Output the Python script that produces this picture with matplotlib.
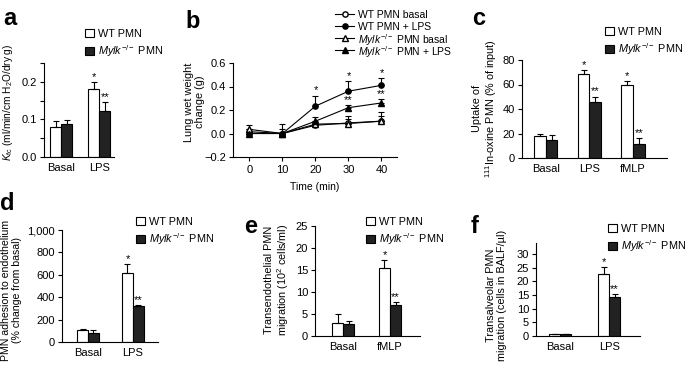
import numpy as np
import matplotlib
matplotlib.use('Agg')
import matplotlib.pyplot as plt
from matplotlib.lines import Line2D

plt.rcParams['font.family'] = ['Liberation Sans', 'DejaVu Sans']
plt.rcParams['mathtext.fontset'] = 'custom'
plt.rcParams['mathtext.rm'] = 'Liberation Sans'
plt.rcParams['mathtext.it'] = 'Liberation Sans:italic'
plt.rcParams['mathtext.bf'] = 'Liberation Sans:bold'
plt.rcParams['font.size'] = 7.5
plt.rcParams['axes.linewidth'] = 0.8

# ---- data ----
# a: Kfc
a_groups = ['Basal', 'LPS']
a_wt = [0.080, 0.181]
a_wt_err = [0.015, 0.018]
a_ko = [0.088, 0.123]
a_ko_err = [0.011, 0.023]
a_wt_stars = ['', '*']
a_ko_stars = ['', '**']

# b: lung wet weight over time
b_time = [0, 10, 20, 30, 40]
b_wt_basal = [0.015, 0.0, 0.07, 0.09, 0.105]
b_wt_basal_err = [0.055, 0.04, 0.03, 0.06, 0.08]
b_wt_lps = [0.0, 0.0, 0.233, 0.36, 0.41]
b_wt_lps_err = [0.0, 0.0, 0.09, 0.085, 0.06]
b_ko_basal = [0.035, 0.0, 0.08, 0.085, 0.105]
b_ko_basal_err = [0.005, 0.08, 0.02, 0.04, 0.045]
b_ko_lps = [0.0, 0.0, 0.105, 0.22, 0.26]
b_ko_lps_err = [0.0, 0.0, 0.035, 0.02, 0.03]
b_wt_stars = ['', '', '*', '*', '*']
b_ko_stars = ['', '', '', '**', '**']

# c: 111In-oxine uptake
c_groups = ['Basal', 'LPS', 'fMLP']
c_wt = [17.6, 68.6, 59.7]
c_wt_err = [2.2, 3.3, 3.5]
c_ko = [14.4, 45.6, 11.7]
c_ko_err = [4.6, 4.6, 4.6]
c_wt_stars = ['', '*', '*']
c_ko_stars = ['', '**', '**']

# d: adhesion
d_groups = ['Basal', 'LPS']
d_wt = [104, 614]
d_wt_err = [8, 78]
d_ko = [80, 323]
d_ko_err = [25, 9]
d_wt_stars = ['', '*']
d_ko_stars = ['', '**']

# e: transendothelial migration
e_groups = ['Basal', 'fMLP']
e_wt = [3.0, 15.4]
e_wt_err = [1.9, 1.9]
e_ko = [2.7, 7.0]
e_ko_err = [0.7, 0.8]
e_wt_stars = ['', '*']
e_ko_stars = ['', '**']

# f: transalveolar migration
f_groups = ['Basal', 'LPS']
f_wt = [0.8, 22.7]
f_wt_err = [0.1, 2.4]
f_ko = [0.7, 14.1]
f_ko_err = [0.2, 1.1]
f_wt_stars = ['', '*']
f_ko_stars = ['', '**']

KO = r'$\mathit{Mylk}^{-/-}$ PMN'

W, H = 685, 365
fig = plt.figure(figsize=(6.85, 3.65), dpi=100)


def box(l, t, r, b):
    return [l / W, 1 - b / H, (r - l) / W, (b - t) / H]


def style(ax):
    ax.spines['top'].set_visible(False)
    ax.spines['right'].set_visible(False)
    ax.tick_params(axis='y', direction='out', length=3, width=0.8, pad=2, labelsize=8)


def stars(ax, xs, vals, errs, labels):
    for xi, v, e, s in zip(xs, vals, errs, labels):
        if s:
            ax.annotate(s, (xi, v + e), xytext=(0, 0), textcoords='offset points',
                        ha='center', va='bottom', fontsize=8)


def bar_panel(ax, groups, wt, wt_err, ko, ko_err, wt_st, ko_st, width, xlim):
    x = np.arange(len(groups))
    ax.bar(x - width / 2, wt, width, color='white', edgecolor='black', lw=0.8, label='WT PMN')
    ax.bar(x + width / 2, ko, width, color='#222222', edgecolor='black', lw=0.8, label=KO)
    for xs, v, e in [(x - width / 2, wt, wt_err), (x + width / 2, ko, ko_err)]:
        ax.errorbar(xs, v, yerr=[np.zeros(len(v)), e], fmt='none', ecolor='black',
                    elinewidth=0.8, capsize=2, capthick=0.8)
    stars(ax, x - width / 2, wt, wt_err, wt_st)
    stars(ax, x + width / 2, ko, ko_err, ko_st)
    ax.set_xticks(x, groups, fontsize=8)
    ax.tick_params(axis='x', length=0, pad=4)
    ax.set_xlim(*xlim)
    style(ax)


def bar_legend(ax, x, y):
    ax.legend(loc='upper left', bbox_to_anchor=(x / W, 1 - y / H), bbox_transform=fig.transFigure,
              frameon=False, fontsize=7.8, handlelength=0.8, handleheight=0.8,
              handletextpad=0.4, labelspacing=0.35, borderpad=0, borderaxespad=0)


def ylab(ax, text, x, y, size=7.8):
    ax.set_ylabel(text, fontsize=size, linespacing=1.1)
    ax.yaxis.set_label_coords(x, y)


# ---- a ----
ax = fig.add_axes(box(44, 63, 114, 157))
bar_panel(ax, a_groups, a_wt, a_wt_err, a_ko, a_ko_err, a_wt_stars, a_ko_stars, 0.29, (-0.45, 1.39))
ax.set_ylim(0, 0.25)
ax.set_yticks(np.arange(0, 0.26, 0.05))
ax.set_yticklabels(['0.0', '', '0.1', '', '0.2', ''])
ylab(ax, r'$\mathit{K}_{\rm fc}$ (ml/min/cm H$_2$O/dry g)', -0.42, 0.58, size=7.3)
bar_legend(ax, 85, 29)

# ---- b ----
ax = fig.add_axes(box(233, 63, 397, 157))
series = [
    (b_wt_basal, b_wt_basal_err, 'o', 'white', 'WT PMN basal'),
    (b_wt_lps, b_wt_lps_err, 'o', 'black', 'WT PMN + LPS'),
    (b_ko_basal, b_ko_basal_err, '^', 'white', r'$\mathit{Mylk}^{-/-}$ PMN basal'),
    (b_ko_lps, b_ko_lps_err, '^', 'black', r'$\mathit{Mylk}^{-/-}$ PMN + LPS'),
]
for vals, errs, mk, fc, lab in series:
    ax.errorbar(b_time, vals, yerr=[np.zeros(len(vals)), errs], fmt='-', marker=mk,
                color='black', mfc=fc, mec='black', ms=3.8, lw=0.8, elinewidth=0.8,
                capsize=2, capthick=0.8, label=lab)
stars(ax, b_time, b_wt_lps, b_wt_lps_err, b_wt_stars)
stars(ax, b_time, b_ko_lps, b_ko_lps_err, b_ko_stars)
ax.set_xlim(-5, 44.7)
ax.set_ylim(-0.2, 0.6)
ax.set_xticks(b_time)
ax.set_yticks([-0.2, 0.0, 0.2, 0.4, 0.6])
ax.set_yticklabels(['\u22120.2', '0.0', '0.2', '0.4', '0.6'])
ax.tick_params(axis='x', direction='out', length=3, width=0.8, pad=3, labelsize=8)
style(ax)
ax.set_xlabel('Time (min)', fontsize=7.5, labelpad=5)
ylab(ax, 'Lung wet weight\nchange (g)', -0.17, 0.585)

# legend for b, drawn row by row
for i, (_, _, mk, fc, lab) in enumerate(series):
    yc = 1 - (14 + 12 * i) / H
    fig.add_artist(Line2D([335 / W, 354 / W], [yc, yc], color='black', lw=0.8))
    fig.add_artist(Line2D([344.5 / W], [yc], marker=mk, mfc=fc, mec='black', ms=3.8, lw=0))
    fig.text(358 / W, yc, lab, fontsize=7.5, va='center_baseline', ha='left')

# ---- c ----
ax = fig.add_axes(box(522, 60, 667, 158))
bar_panel(ax, c_groups, c_wt, c_wt_err, c_ko, c_ko_err, c_wt_stars, c_ko_stars, 0.265, (-0.55, 2.78))
ax.set_ylim(0, 80)
ax.set_yticks([0, 20, 40, 60, 80])
ylab(ax, 'Uptake of\n$^{111}$In-oxine PMN (% of input)', -0.16, 0.51)
bar_legend(ax, 605, 27)

# ---- d ----
ax = fig.add_axes(box(62, 230, 158, 342))
bar_panel(ax, d_groups, d_wt, d_wt_err, d_ko, d_ko_err, d_wt_stars, d_ko_stars, 0.24, (-0.58, 1.56))
ax.set_ylim(0, 1000)
ax.set_yticks(np.arange(0, 1001, 200))
ax.set_yticklabels(['0', '200', '400', '600', '800', '1,000'])
ylab(ax, 'PMN adhesion to endothelium\n(% change from basal)', -0.42, 0.46, size=7.6)
bar_legend(ax, 136, 217)

# ---- e ----
ax = fig.add_axes(box(315, 226, 420, 336))
bar_panel(ax, e_groups, e_wt, e_wt_err, e_ko, e_ko_err, e_wt_stars, e_ko_stars, 0.235, (-0.6, 1.64))
ax.set_ylim(0, 25)
ax.set_yticks(np.arange(0, 26, 5))
ylab(ax, 'Transendothelial PMN\nmigration (10$^2$ cells/ml)', -0.23, 0.51)
bar_legend(ax, 366, 217)

# ---- f ----
ax = fig.add_axes(box(536, 243, 640, 336))
bar_panel(ax, f_groups, f_wt, f_wt_err, f_ko, f_ko_err, f_wt_stars, f_ko_stars, 0.225, (-0.49, 1.63))
ax.set_ylim(0, 34)
ax.set_yticks(np.arange(0, 31, 5))
ylab(ax, 'Transalveolar PMN\nmigration (cells in BALF/\u00b5l)', -0.28, 0.44)
bar_legend(ax, 608, 224)

# panel letters
for letter, px, py in [('a', 3, 25), ('b', 185, 28), ('c', 472, 25),
                       ('d', 0, 210), ('e', 244, 233), ('f', 471, 233)]:
    fig.text(px / W, 1 - py / H, letter, fontsize=17, fontweight='bold', va='baseline', ha='left')

fig.savefig('out.png', dpi=100)
